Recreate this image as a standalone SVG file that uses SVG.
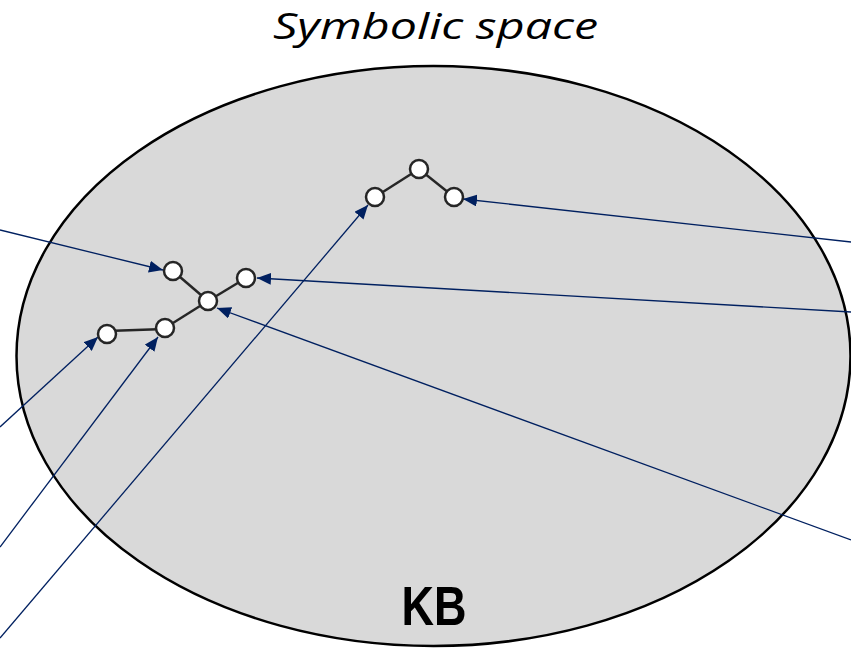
<svg xmlns="http://www.w3.org/2000/svg" width="851" height="652" viewBox="0 0 851 652">
<style>
.edge{stroke:#262626;stroke-width:2.5;fill:none}
.node{fill:#ffffff;stroke:#262626;stroke-width:2.5}
.arrow{stroke:#002060;stroke-width:1.3;fill:none;marker-end:url(#ah)}
</style>
<defs>
<marker id="ah" viewBox="0 0 14 12" refX="14" refY="6" markerWidth="14" markerHeight="12" markerUnits="userSpaceOnUse" orient="auto">
<path d="M0,0 L14,6 L0,12 z" fill="#002060"/>
</marker>
</defs>
<rect width="851" height="652" fill="#ffffff"/>
<g id="kb">
<ellipse cx="433.5" cy="356" rx="417" ry="290" fill="#d9d9d9" stroke="#000000" stroke-width="2.5"/>
<text x="434" y="625" font-family="Liberation Sans, Arial, sans-serif" font-weight="bold" font-size="55" text-anchor="middle" textLength="65" lengthAdjust="spacingAndGlyphs">KB</text>
</g>
<text id="title" x="435.5" y="39" font-family="Open Sans, Liberation Sans, sans-serif" font-style="italic" font-size="37" text-anchor="middle" textLength="325" lengthAdjust="spacingAndGlyphs">Symbolic space</text>
<g id="edges">
<line class="edge" x1="173" y1="271" x2="208" y2="301"/>
<line class="edge" x1="246" y1="278" x2="208" y2="301"/>
<line class="edge" x1="208" y1="301" x2="165" y2="328"/>
<line class="edge" x1="165" y1="329" x2="107" y2="331"/>
<line class="edge" x1="375" y1="197" x2="419" y2="169"/>
<line class="edge" x1="419" y1="169" x2="454" y2="197"/>
</g>
<g id="connectors">
<line class="arrow" x1="0" y1="230" x2="163" y2="270"/>
<line class="arrow" x1="851" y1="312" x2="257" y2="278"/>
<line class="arrow" x1="851" y1="242" x2="463" y2="199"/>
<line class="arrow" x1="851" y1="540" x2="217" y2="308"/>
<line class="arrow" x1="0" y1="427" x2="98" y2="337"/>
<line class="arrow" x1="0" y1="547" x2="158" y2="337"/>
<line class="arrow" x1="0" y1="638" x2="368" y2="205"/>
</g>
<g id="n1"><circle class="node" cx="173" cy="271" r="9"/></g>
<g id="n2"><circle class="node" cx="246" cy="278" r="9"/></g>
<g id="n3"><circle class="node" cx="208" cy="301" r="9"/></g>
<g id="n4"><circle class="node" cx="165" cy="328" r="9"/></g>
<g id="n5"><circle class="node" cx="107" cy="334" r="9"/></g>
<g id="n6"><circle class="node" cx="375" cy="197" r="9"/></g>
<g id="n7"><circle class="node" cx="419" cy="169" r="9"/></g>
<g id="n8"><circle class="node" cx="454" cy="197" r="9"/></g>
</svg>
